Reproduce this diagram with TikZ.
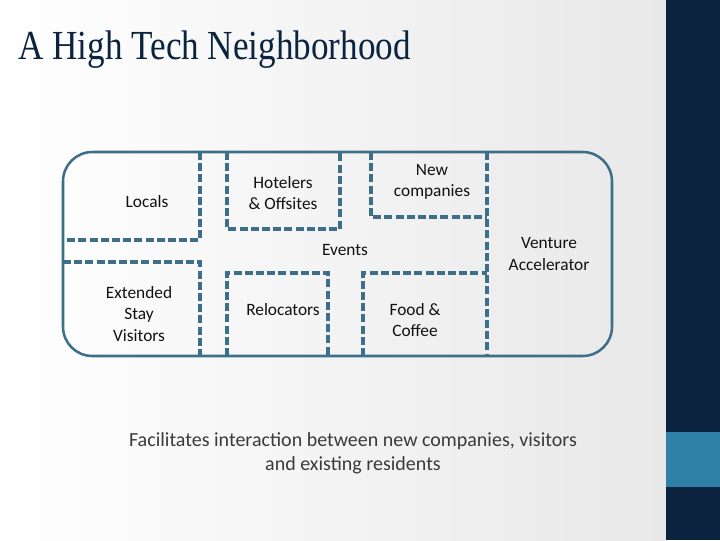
\documentclass[tikz,border=0pt]{standalone}
\usepackage{fontspec}
\setmainfont{Carlito}
\newfontfamily\titlefont{Liberation Serif}
\definecolor{barnavy}{HTML}{0C2340}
\definecolor{barblue}{HTML}{2E80A8}
\definecolor{linecol}{HTML}{3D6E8A}
\definecolor{txtcol}{HTML}{111111}
\definecolor{captcol}{HTML}{3A3A3A}
\tikzset{
  dashline/.style={draw=linecol, line width=2.6pt, dash pattern=on 6pt off 2.4pt},
  outerbox/.style={draw=linecol, line width=1.9pt, rounded corners=22pt},
  lbl/.style={text=txtcol, align=center, font=\fontsize{13}{16.2}\selectfont, inner sep=0pt},
}
\begin{document}
\begin{tikzpicture}[x=0.75pt,y=-0.75pt]
\useasboundingbox (0,0) rectangle (720,540);
\shade[left color=white, right color=black!9] (0,0) rectangle (666,540);
\fill[barnavy] (666,0) rectangle (720,540);
\fill[barblue] (666,432) rectangle (720,487);
\node[anchor=base west, inner sep=0pt, text=barnavy, xscale=0.85, font=\titlefont\fontsize{31}{36}\selectfont] (title) at (18,59) {A High Tech Neighborhood};
% outer
\draw[outerbox] (63,152) rectangle (612,356);
% dashed dividers
\draw[dashline] (200,152) -- (200,240) -- (63,240);
\draw[dashline] (63,262) -- (200,262) -- (200,356);
\draw[dashline] (227,152) -- (227,229) -- (340,229) -- (340,152);
\draw[dashline] (227,356) -- (227,273) -- (328,273) -- (328,356);
\draw[dashline] (371,152) -- (371,217) -- (487,217);
\draw[dashline] (487,152) -- (487,356);
\draw[dashline] (363,356) -- (363,273) -- (487,273);
% labels
\node[lbl] (locals) at (147,202) {Locals};
\node[lbl] (hotel) at (283,193) {Hotelers\\\& Offsites};
\node[lbl] (newco) at (432,182) {New\\companies};
\node[lbl] (events) at (345,250) {Events};
\node[lbl] (venture) at (549,254) {Venture\\Accelerator};
\node[lbl] (ext) at (139,314) {Extended\\Stay\\Visitors};
\node[lbl] (reloc) at (283,310) {Relocators};
\node[lbl] (food) at (415,320) {Food \&\\Coffee};
\node[text=captcol, align=center, inner sep=0pt, font=\fontsize{15}{18}\selectfont] (cap) at (353,453) {Facilitates interaction between new companies, visitors\\and existing residents};
\end{tikzpicture}
\end{document}
